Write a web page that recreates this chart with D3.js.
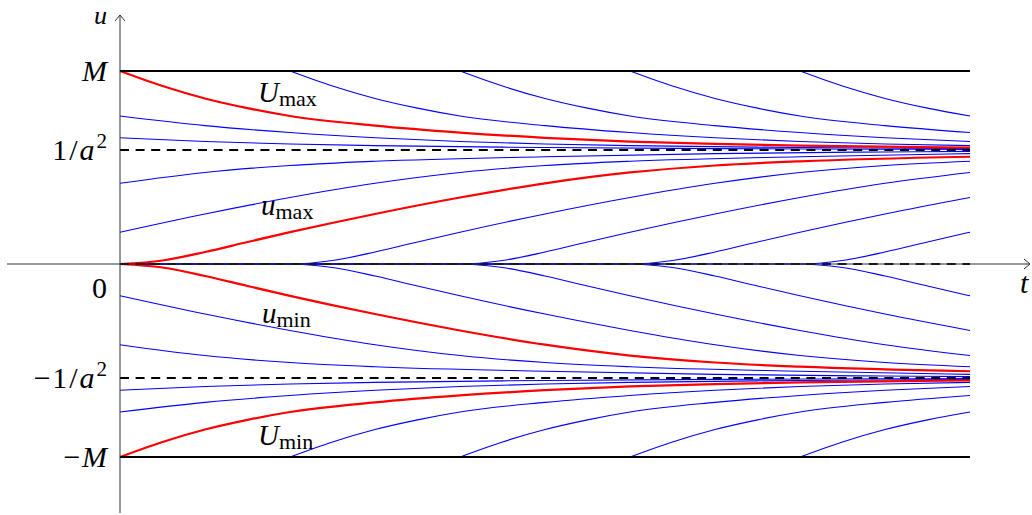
<!DOCTYPE html>
<html>
<head>
<meta charset="utf-8">
<script src="https://cdn.jsdelivr.net/npm/d3@7/dist/d3.min.js"></script>
<style>
  body { margin: 0; background: #fff; }
  svg { display: block; }
  text { font-family: "Liberation Serif", "Times New Roman", serif; fill: #000; }
</style>
</head>
<body>
<svg id="chart" width="1032" height="515"></svg>
<script>
// sample times of the base solutions (the frame shows t = 0..5)
var tGrid = [0, 0.25, 0.5, 0.75, 1, 1.5, 2, 2.5, 3, 3.5, 4, 5, 6, 7, 7.5, 8];

// base solutions (units: 1/a^2 = 1)
var UmaxVals = [1.693, 1.561, 1.452, 1.367, 1.298, 1.214, 1.153, 1.107, 1.074, 1.053, 1.038, 1.022, 1.012, 1.007, 1.005, 1.004];
var umaxVals = [0, 0.031, 0.105, 0.193, 0.279, 0.439, 0.583, 0.708, 0.803, 0.864, 0.901, 0.941, 0.968, 0.983, 0.988, 0.991];
var uminVals = [0, -0.031, -0.105, -0.193, -0.279, -0.439, -0.583, -0.708, -0.803, -0.864, -0.901, -0.941, -0.968, -0.983, -0.988, -0.991];
var UminVals = [-1.693, -1.561, -1.452, -1.367, -1.298, -1.214, -1.153, -1.107, -1.074, -1.053, -1.038, -1.022, -1.012, -1.007, -1.005, -1.004];

// time shifts of the blue solutions in every band
var shifts = [-2.5, -1, 1, 2, 3, 4];

// levels on the u axis and their labels
var levels = [1.693, 1, 0, -1, -1.693];
var tickLabels = ["M", "1/a^2", "0", "\u22121/a^2", "\u2212M"];
var solidLevels = [1.693, -1.693];
var dashedLevels = [1, 0, -1];

var svg = d3.select("#chart");

var x = d3.scaleLinear().domain([0, 5]).range([120, 970]);
var y = d3.scaleLinear().domain([-1, 1]).range([378, 150]);

var line = d3.line()
  .x(function(d) { return x(d[0]); })
  .y(function(d) { return y(d[1]); })
  .curve(d3.curveMonotoneX);

// solution shifted in time by k; zeroBefore: it rests on u = 0 until t = k
function shifted(vals, k, zeroBefore) {
  var pts = [];
  if (zeroBefore && k > 0) pts.push([0, 0]);
  tGrid.forEach(function(s, i) {
    var t = s + k;
    if (t >= -1e-9 && t <= 5 + 1e-9) pts.push([t, vals[i]]);
  });
  return pts;
}

var bands = [
  { vals: UmaxVals, zero: false },
  { vals: umaxVals, zero: true },
  { vals: uminVals, zero: true },
  { vals: UminVals, zero: false }
];

var gBlue = svg.append("g");
bands.forEach(function(b) {
  shifts.forEach(function(k) {
    gBlue.append("path")
      .attr("d", line(shifted(b.vals, k, b.zero)))
      .attr("fill", "none")
      .attr("stroke", "#0000ff")
      .attr("stroke-width", 1.1);
  });
});

var gRed = svg.append("g");
bands.forEach(function(b) {
  gRed.append("path")
    .attr("d", line(shifted(b.vals, 0, false)))
    .attr("fill", "none")
    .attr("stroke", "#ff0000")
    .attr("stroke-width", 2.2);
});

// dashed equilibria
svg.append("g").selectAll("line")
  .data(dashedLevels)
  .enter().append("line")
  .attr("x1", x(0)).attr("x2", x(5))
  .attr("y1", function(d) { return y(d); })
  .attr("y2", function(d) { return y(d); })
  .attr("stroke", "#000")
  .attr("stroke-width", 1.8)
  .attr("stroke-dasharray", "9,6.6");

// bounds +-M
svg.append("g").selectAll("line")
  .data(solidLevels)
  .enter().append("line")
  .attr("x1", x(0)).attr("x2", x(5))
  .attr("y1", function(d) { return y(d); })
  .attr("y2", function(d) { return y(d); })
  .attr("stroke", "#000")
  .attr("stroke-width", 2);

// axes
var axisColor = "#333";
var y0 = y(0), x0 = x(0);
svg.append("line").attr("x1", 7).attr("x2", 1030).attr("y1", y0).attr("y2", y0)
  .attr("stroke", axisColor).attr("stroke-width", 1);
svg.append("line").attr("x1", x0).attr("x2", x0).attr("y1", 513).attr("y2", 15)
  .attr("stroke", axisColor).attr("stroke-width", 1);
svg.append("path")
  .attr("d", "M1024," + (y0 - 5) + " L1030," + y0 + " L1024," + (y0 + 5))
  .attr("fill", "none").attr("stroke", axisColor).attr("stroke-width", 1);
svg.append("path")
  .attr("d", "M" + (x0 - 5) + ",21 L" + x0 + ",15 L" + (x0 + 5) + ",21")
  .attr("fill", "none").attr("stroke", axisColor).attr("stroke-width", 1);

svg.append("text").attr("x", 94).attr("y", 24)
  .attr("font-size", 26).attr("font-style", "italic").text("u");
svg.append("text").attr("x", 1020).attr("y", 293)
  .attr("font-size", 30).attr("font-style", "italic").text("t");

// tick labels: letters italic, "^2" as superscript, TeX-like spacing
function writeLabel(sel, s) {
  var parts = s.split("^");
  var main = parts[0];
  var pad = 0;
  for (var i = 0; i < main.length; i++) {
    var ch = main[i];
    var ts = sel.append("tspan")
      .attr("font-style", /[A-Za-z]/.test(ch) ? "italic" : "normal")
      .text(ch);
    if (pad) ts.attr("dx", pad);
    pad = 0;
    if (ch === "/") { ts.attr("dx", 2); pad = 2; }
    if (ch === "\u2212") pad = 1.5;
  }
  if (parts[1]) {
    sel.append("tspan").attr("font-size", 21).attr("dx", 2).attr("dy", -12).text(parts[1]);
  }
}

levels.forEach(function(v, i) {
  var ty = v === 0 ? y(0) + 34 : y(v) + 10;
  var t = svg.append("text")
    .attr("x", 107).attr("y", ty)
    .attr("text-anchor", "end")
    .attr("font-size", 30);
  writeLabel(t, tickLabels[i]);
});

// curve names
var names = [
  { main: "U", sub: "max", px: 258, py: 102 },
  { main: "u", sub: "max", px: 261, py: 215 },
  { main: "u", sub: "min", px: 262, py: 323 },
  { main: "U", sub: "min", px: 258, py: 445 }
];
names.forEach(function(n) {
  var t = svg.append("text").attr("x", n.px).attr("y", n.py).attr("font-size", 29);
  t.append("tspan").attr("font-style", "italic").text(n.main);
  t.append("tspan").attr("font-size", 22).attr("dy", 4).text(n.sub);
});
</script>
</body>
</html>
